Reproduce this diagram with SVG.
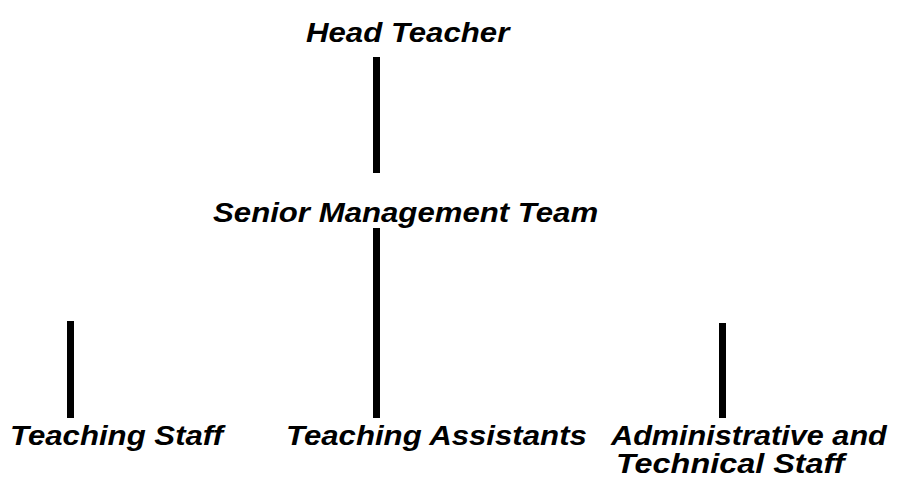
<svg xmlns="http://www.w3.org/2000/svg" width="899" height="484" viewBox="0 0 899 484">
<style>
.lbl{font-family:"Liberation Sans",Arial,sans-serif;font-weight:bold;font-style:italic;font-size:27px;fill:#000}
.con{stroke:#000;stroke-width:7;stroke-linecap:butt;fill:none}
</style>
<rect width="899" height="484" fill="#fff"/>
<g id="connectors">
<line class="con" x1="376.5" y1="57" x2="376.5" y2="173"/>
<line class="con" x1="376.5" y1="228" x2="376.5" y2="418"/>
<line class="con" x1="70.5" y1="321" x2="70.5" y2="418"/>
<line class="con" x1="722.5" y1="323" x2="722.5" y2="418"/>
</g>
<g id="head-teacher"><text class="lbl" transform="translate(306,42) scale(1.155,1)">Head Teacher</text></g>
<g id="senior-management-team"><text class="lbl" transform="translate(213,222) scale(1.155,1)">Senior Management Team</text></g>
<g id="teaching-staff"><text class="lbl" transform="translate(10,445) scale(1.155,1)">Teaching Staff</text></g>
<g id="teaching-assistants"><text class="lbl" transform="translate(286,445) scale(1.155,1)">Teaching Assistants</text></g>
<g id="admin-technical-staff">
<text class="lbl" transform="translate(611,445) scale(1.135,1)">Administrative and</text>
<text class="lbl" transform="translate(616,473) scale(1.2,1)">Technical Staff</text>
</g>
</svg>
